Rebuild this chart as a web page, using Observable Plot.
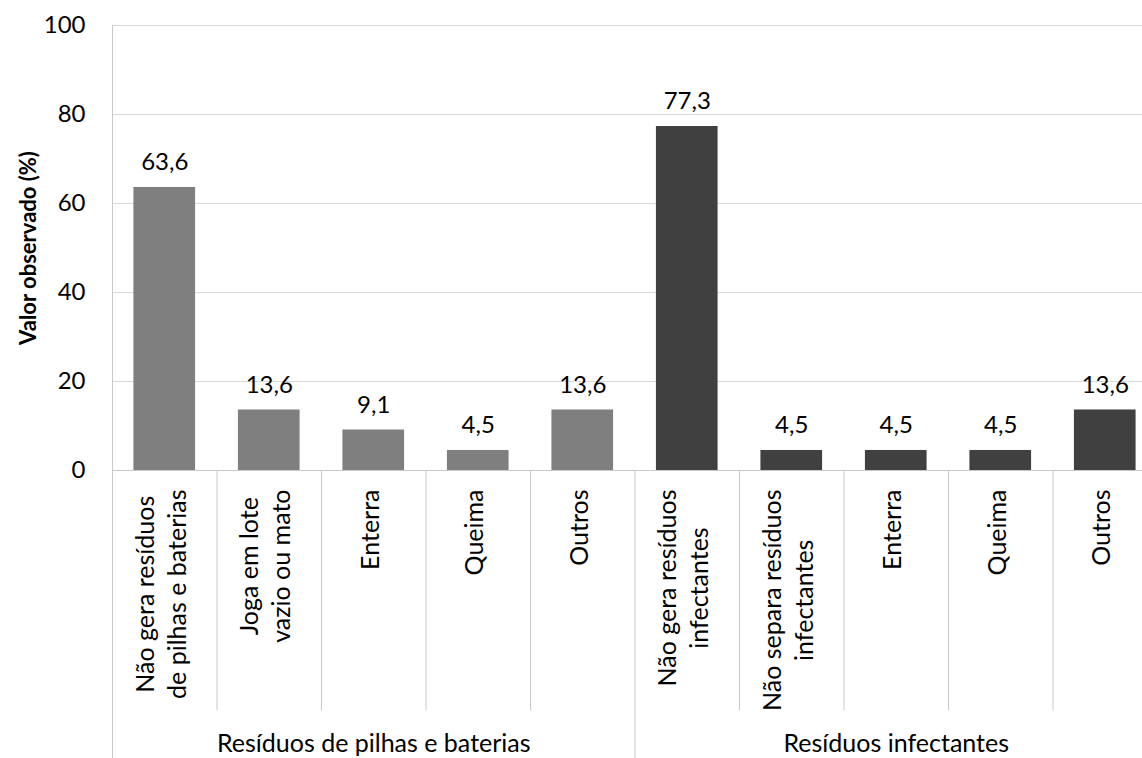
<!DOCTYPE html>
<html><head><meta charset="utf-8">
<script src="https://cdn.jsdelivr.net/npm/d3@7"></script>
<script src="https://cdn.jsdelivr.net/npm/@observablehq/plot@0.6"></script>
<style>html,body{margin:0;padding:0;background:#fff;overflow:hidden}</style>
</head><body><div id="chart"></div>
<script>
const groups = ["Resíduos de pilhas e baterias", "Resíduos infectantes"];
const categories1 = ["Não gera resíduos\nde pilhas e baterias", "Joga em lote\nvazio ou mato", "Enterra", "Queima", "Outros"];
const values1 = [63.6, 13.6, 9.1, 4.5, 13.6];
const categories2 = ["Não gera resíduos\ninfectantes", "Não separa resíduos\ninfectantes", "Enterra", "Queima", "Outros"];
const values2 = [77.3, 4.5, 4.5, 4.5, 13.6];
const yTicks = [0, 20, 40, 60, 80, 100];
const yLabel = "Valor observado (%)";
const colors = ["#7f7f7f", "#404040"];

const FONT = "Lato";
const FS_NUM = 24;   // tick and value labels
const FS_TXT = 25;   // category and group labels
const FS_TITLE = 22;
const LINE_GAP = 32; // spacing between lines of a category label

const rows = [];
[categories1, categories2].forEach((cats, gi) => {
  const vals = gi === 0 ? values1 : values2;
  cats.forEach((c, i) => rows.push({group: groups[gi], gi, i, key: gi + "|" + i, label: c, value: vals[i]}));
});
const keys = rows.map(r => r.key);
const groupRows = groups.map((g, gi) => ({group: g, mid: gi + "|2", first: gi + "|0"}));

const ctx = document.createElement("canvas").getContext("2d");
ctx.font = `${FS_TXT}px ${FONT}`;
const maxW = s => Math.max(...s.split("\n").map(l => ctx.measureText(l).width));

const W = 1142, H = 758;
const step = 104.5;

const fmt = v => v.toFixed(1).replace(".", ",");
const sepColor = "#c9c9c9";

const labelMarks = [];
rows.forEach(r => {
  const lines = r.label.split("\n");
  const n = lines.length;
  const top = 19 + maxW(r.label) / 2;
  lines.forEach((line, k) => {
    labelMarks.push(Plot.text([r], {
      x: "key", text: () => line, frameAnchor: "bottom", rotate: -90, textAnchor: "middle",
      dy: top, dx: 5 + (k - (n - 1) / 2) * LINE_GAP, fill: "#000", fontSize: FS_TXT
    }));
  });
});

const marks = [
  Plot.gridY({ticks: yTicks.filter(t => t > 0), stroke: "#d9d9d9", strokeOpacity: 1}),
  Plot.barY(rows.filter(r => r.gi === 0), {x: "key", y: "value", fill: colors[0]}),
  Plot.barY(rows.filter(r => r.gi === 1), {x: "key", y: "value", fill: colors[1]}),
  Plot.ruleY([0], {stroke: sepColor}),
  // category separators below the axis
  Plot.ruleX(rows.filter(r => r.i > 0), {x: "key", y1: 0, y2: -54, dx: -step / 2, stroke: sepColor}),
  // group separators
  Plot.ruleX(groupRows.slice(1), {x: "first", y1: 0, y2: -66, dx: -step / 2, stroke: sepColor}),
  Plot.ruleX(groupRows.slice(0, 1), {x: "first", y1: 100, y2: -66, dx: -step / 2, stroke: sepColor}),
  Plot.text(rows, {x: "key", y: "value", text: d => fmt(d.value), dy: -25, fill: "#000", fontSize: FS_NUM}),
  Plot.text(groupRows, {x: "mid", text: "group", frameAnchor: "bottom", dy: 281, fill: "#000", fontSize: FS_TXT}),
  ...labelMarks,
  Plot.axisY({ticks: yTicks, tickSize: 0, tickPadding: 27, fontSize: FS_NUM, label: null, fill: "#000"}),
  Plot.axisY({ticks: [], tickSize: 0, label: yLabel, labelAnchor: "center", labelOffset: 92, labelArrow: "none", fontWeight: "bold", fontSize: FS_TITLE, fill: "#000"})
];

const chart = Plot.plot({
  width: W, height: H,
  marginLeft: 112, marginRight: 0, marginTop: 25, marginBottom: 288,
  style: {fontFamily: FONT, fontSize: FS_NUM + "px", color: "#000", background: "#fff", overflow: "hidden"},
  x: {type: "band", domain: keys, range: [112, 1157], paddingInner: 0.41, paddingOuter: 0.205, round: false, axis: null},
  y: {domain: [0, 100], range: [470, 25]},
  marks
});
document.getElementById("chart").appendChild(chart);
</script></body></html>
